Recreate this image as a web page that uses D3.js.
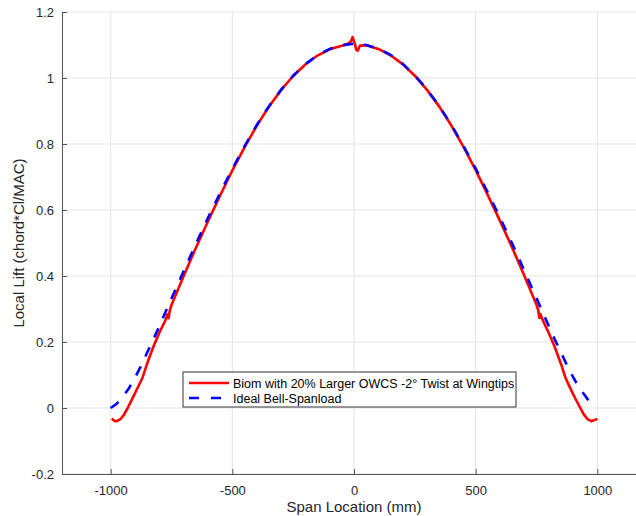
<!DOCTYPE html>
<html>
<head>
<meta charset="utf-8">
<script src="https://cdn.jsdelivr.net/npm/d3@7"></script>
<style>
body { margin:0; background:#fff; }
svg { display:block; font-family:"Liberation Sans", Arial, Helvetica, sans-serif; }
</style>
</head>
<body>
<svg></svg>
<script>
//span stations (mm) and local lift for the ideal bell spanload
var bellSpan = [-1000,-975,-950,-925,-900,-875,-850,-825,-800,-775,-750,-700,-650,-600,-550,-500,
                -450,-400,-350,-300,-250,-200,-150,-100,-50,0,50,100,150,200,250,300,350,400,450,
                500,550,600,650,700,750,775,800,825,850,875,900,925,950,970];
var bellLift = [0.000,0.013,0.034,0.060,0.092,0.128,0.168,0.207,0.248,0.290,0.332,0.415,0.497,0.576,0.652,0.725,
                0.793,0.857,0.914,0.964,1.007,1.042,1.069,1.088,1.099,1.104,1.100,1.089,1.070,1.043,1.008,0.965,0.915,0.858,0.794,
                0.726,0.653,0.577,0.498,0.416,0.333,0.291,0.249,0.208,0.169,0.130,0.094,0.062,0.037,0.016];

//span stations (mm) and local lift for the Biom wing
var biomSpan = [-995,-985,-975,-960,-945,-930,-910,-890,-870,-850,-825,-800,-775,-766,-762,-757,-750,-700,-650,
                -600,-550,-500,-450,-400,-350,-300,-250,-200,-150,-100,-50,-25,-12,-6,3,10,16,24,50,100,150,200,
                250,300,350,400,450,500,550,600,650,700,750,757,762,766,775,800,825,850,870,890,910,930,945,960,
                975,990,1000];
var biomLift = [-0.032,-0.039,-0.040,-0.034,-0.020,0.000,0.030,0.060,0.090,0.135,0.185,0.228,0.266,0.284,0.272,0.296,0.312,0.400,0.485,
                0.566,0.644,0.720,0.790,0.855,0.913,0.963,1.006,1.041,1.068,1.087,1.098,1.104,1.112,1.124,1.105,1.085,1.083,1.098,1.099,1.088,1.069,1.042,
                1.007,0.964,0.914,0.856,0.791,0.721,0.645,0.567,0.486,0.401,0.313,0.297,0.273,0.285,0.267,0.228,0.185,0.135,0.090,0.058,0.028,0.000,-0.020,-0.034,
                -0.040,-0.036,-0.033];

var xTicks = [-1000,-500,0,500,1000];
var yTicks = [-0.2,0,0.2,0.4,0.6,0.8,1,1.2];
var seriesNames = ["Biom with 20% Larger OWCS -2\u00B0 Twist at Wingtips","Ideal Bell-Spanload"];

var screen = {width:636,height:516};
var margins = {left:62,right:-10,top:12,bottom:42};
var graph = {
    width:screen.width-margins.left-margins.right,
    height:screen.height-margins.top-margins.bottom
};

var svg = d3.select("svg")
    .attr("width",screen.width)
    .attr("height",screen.height);

var target = svg.append("g")
    .attr("transform","translate("+margins.left+","+margins.top+")");

var xScale = d3.scaleLinear().domain([-1200,1200]).range([0,graph.width]);
var yScale = d3.scaleLinear().domain([-0.2,1.2]).range([graph.height,0]);

//plain hyphen for negatives, like the original
var fmt = function(d){ return String(+d.toFixed(2)); };

//grid lines
target.append("g").selectAll("line")
    .data(xTicks).enter().append("line")
    .attr("x1",function(d){return xScale(d);})
    .attr("x2",function(d){return xScale(d);})
    .attr("y1",0).attr("y2",graph.height)
    .attr("stroke","#e3e3e3").attr("stroke-width",1);
target.append("g").selectAll("line")
    .data(yTicks).enter().append("line")
    .attr("x1",0).attr("x2",graph.width)
    .attr("y1",function(d){return yScale(d);})
    .attr("y2",function(d){return yScale(d);})
    .attr("stroke","#e3e3e3").attr("stroke-width",1);

//axes, ticks point inward
var xAxis = d3.axisBottom(xScale).tickValues(xTicks).tickSizeInner(-5).tickSizeOuter(0).tickPadding(12)
    .tickFormat(fmt);
var yAxis = d3.axisLeft(yScale).tickValues(yTicks).tickSizeInner(-5).tickSizeOuter(0).tickPadding(8)
    .tickFormat(fmt);

var gx = target.append("g")
    .attr("transform","translate(0,"+graph.height+")")
    .call(xAxis);
var gy = target.append("g").call(yAxis);

[gx,gy].forEach(function(g){
    g.select(".domain").attr("stroke","#555");
    g.selectAll(".tick line").attr("stroke","#555");
    g.selectAll(".tick text").attr("fill","#262626").attr("font-size",13)
        .attr("font-family","Liberation Sans, Arial, sans-serif");
});

//lines
var line = d3.line()
    .x(function(d){return xScale(d[0]);})
    .y(function(d){return yScale(d[1]);});

var bell = d3.zip(bellSpan,bellLift);
var biom = d3.zip(biomSpan,biomLift);

target.append("path")
    .datum(biom)
    .attr("d",line)
    .attr("fill","none")
    .attr("stroke","#ff0000")
    .attr("stroke-width",2.6)
    .attr("stroke-linejoin","round");

target.append("path")
    .datum(bell)
    .attr("d",line)
    .attr("fill","none")
    .attr("stroke","#0000ff")
    .attr("stroke-width",2.6)
    .attr("stroke-dasharray","10,11");

//axis labels
svg.append("text")
    .attr("x",margins.left+xScale(0))
    .attr("y",512)
    .attr("text-anchor","middle")
    .attr("font-size",15)
    .attr("fill","#262626")
    .text("Span Location (mm)");

svg.append("text")
    .attr("transform","translate(24,"+(margins.top+graph.height/2)+") rotate(-90)")
    .attr("text-anchor","middle")
    .attr("font-size",15)
    .attr("fill","#262626")
    .text("Local Lift (chord*Cl/MAC)");

//legend
var legend = svg.append("g").attr("transform","translate(183,372)");
legend.append("rect")
    .attr("width",333).attr("height",35)
    .attr("fill","#fff").attr("stroke","#333").attr("stroke-width",1);

var legendStyles = [{color:"#ff0000",dash:null},{color:"#0000ff",dash:"10,12"}];
seriesNames.forEach(function(name,i){
    var y = 11+i*15;
    legend.append("line")
        .attr("x1",6).attr("x2",46)
        .attr("y1",y).attr("y2",y)
        .attr("stroke",legendStyles[i].color)
        .attr("stroke-width",2.6)
        .attr("stroke-dasharray",legendStyles[i].dash);
    legend.append("text")
        .attr("x",50).attr("y",y+4.5)
        .attr("font-size",12.5)
        .attr("fill","#000")
        .text(name);
});
</script>
</body>
</html>
